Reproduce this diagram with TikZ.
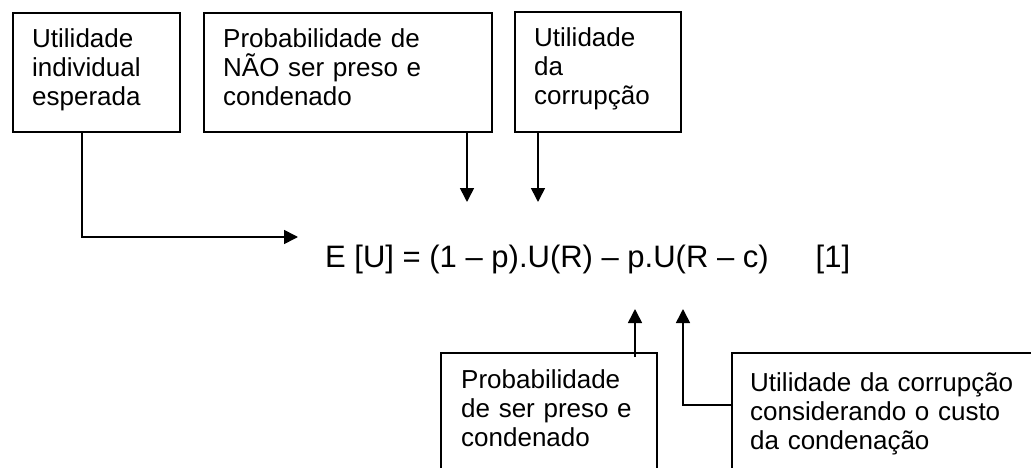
\documentclass[tikz,border=0pt]{standalone}
\usepackage{fontspec}
\setmainfont{Liberation Sans}
\usetikzlibrary{arrows.meta}
\begin{document}
\begin{tikzpicture}[x=1pt,y=-1pt,
  box/.style={draw,line width=1.6pt,inner sep=0pt,anchor=north west},
  lbl/.style={inner sep=0pt,anchor=base west,align=left,font=\fontsize{26}{29}\selectfont},
  conn/.style={line width=1.6pt,-{Triangle[length=14pt,width=14pt]}}]
\useasboundingbox (0,0) rectangle (1031,468);
\clip (0,0) rectangle (1031,468);
% boxes
\node[box,minimum width=167pt,minimum height=119pt] (b1) at (12,12) {};
\node[box,minimum width=288pt,minimum height=119pt] (b2) at (203,12) {};
\node[box,minimum width=166pt,minimum height=120pt] (b3) at (514,11) {};
\node[box,minimum width=216pt,minimum height=140pt] (b4) at (440,352) {};
\node[box,minimum width=330pt,minimum height=140pt] (b5) at (731,352) {};
% labels
\node[lbl,text width=140pt] (t1) at (32,48) {Utilidade\\individual\\esperada};
\node[lbl,text width=250pt] (t2) at (223,48) {Probabilidade de\\NÃO ser preso e\\condenado};
\node[lbl,text width=140pt] (t3) at (534,47) {Utilidade\\da\\corrupção};
\node[lbl,text width=190pt] (t4) at (461,388) {Probabilidade\\de ser preso e\\condenado};
\node[lbl,text width=280pt] (t5) at (750,391) {Utilidade da corrupção\\considerando o custo\\da condenação};
% equation
\node[inner sep=0pt,anchor=base west,font=\fontsize{31}{36}\selectfont] (eq) at (325,267) {E [U] = (1 – p).U(R) – p.U(R – c)\hspace{47pt}[1]};
% connector points
\coordinate (k1) at (82,237);
\coordinate (e1) at (298,237);
\coordinate (e2) at (467,202);
\coordinate (e3) at (538,202);
\coordinate (s4) at (635,357);
\coordinate (e4) at (635,309);
\coordinate (k5) at (683,405);
\coordinate (e5) at (683,309);
% connectors
\draw[conn] (b1.south -| k1) -- (k1) -- (e1);
\draw[conn] (b2.south -| e2) -- (e2);
\draw[conn] (b3.south -| e3) -- (e3);
\draw[conn] (s4) -- (e4);
\draw[conn] (b5.west |- k5) -- (k5) -- (e5);
\end{tikzpicture}
\end{document}
